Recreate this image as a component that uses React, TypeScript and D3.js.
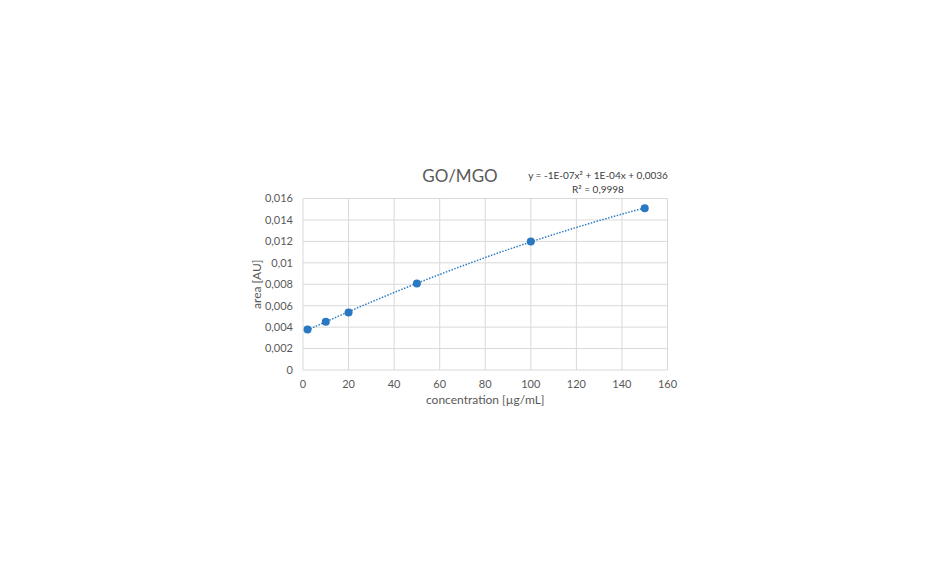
import React, { useEffect, useRef } from 'react';
import * as d3 from 'd3';

// concentration [µg/mL] and measured area [AU]
const concentrations = [2, 10, 20, 50, 100, 150];
const areas = [0.00377, 0.00451, 0.00536, 0.00807, 0.0120, 0.0151];
const xTicks = [0, 20, 40, 60, 80, 100, 120, 140, 160];
const yTicks = [0, 0.002, 0.004, 0.006, 0.008, 0.01, 0.012, 0.014, 0.016];
const title = 'GO/MGO';
const equationLines = ['y = -1E-07x² + 1E-04x + 0,0036', 'R² = 0,9998'];

// least squares quadratic fit for the trendline
const quadFit = (xs: number[], ys: number[]) => {
  const n = xs.length;
  const s = (f: (i: number) => number) => d3.sum(d3.range(n), f);
  const sx = s(i => xs[i]), sx2 = s(i => xs[i] ** 2), sx3 = s(i => xs[i] ** 3), sx4 = s(i => xs[i] ** 4);
  const sy = s(i => ys[i]), sxy = s(i => xs[i] * ys[i]), sx2y = s(i => xs[i] ** 2 * ys[i]);
  const m = [
    [n, sx, sx2, sy],
    [sx, sx2, sx3, sxy],
    [sx2, sx3, sx4, sx2y],
  ];
  for (let c = 0; c < 3; c++) {
    for (let r = c + 1; r < 3; r++) {
      const f = m[r][c] / m[c][c];
      for (let k = c; k < 4; k++) m[r][k] -= f * m[c][k];
    }
  }
  const coef = [0, 0, 0];
  for (let r = 2; r >= 0; r--) {
    let v = m[r][3];
    for (let k = r + 1; k < 3; k++) v -= m[r][k] * coef[k];
    coef[r] = v / m[r][r];
  }
  return (x: number) => coef[0] + coef[1] * x + coef[2] * x * x;
};

const fmt = (d: number) => (d === 0 ? '0' : String(+d.toFixed(3)).replace('.', ','));

const App = () => {
  const svgRef = useRef<SVGSVGElement>(null);

  useEffect(() => {
    const svg = d3.select(svgRef.current);
    svg.selectAll('*').remove();

    const left = 303, right = 667.5, top = 198.5, bottom = 370;
    const font = 'Lato, "Open Sans", sans-serif';
    const grey = '#595959';

    const x = d3.scaleLinear().domain([0, 160]).range([left, right]);
    const y = d3.scaleLinear().domain([0, 0.016]).range([bottom, top]);

    svg.append('defs').append('clipPath').attr('id', 'chartClip')
      .append('rect').attr('x', 0).attr('y', 0).attr('width', 678).attr('height', 576);

    const g = svg.append('g').attr('clip-path', 'url(#chartClip)');

    // grid
    g.append('g').selectAll('line').data(yTicks).enter().append('line')
      .attr('x1', left).attr('x2', right)
      .attr('y1', d => y(d)).attr('y2', d => y(d))
      .attr('stroke', '#d9d9d9').attr('stroke-width', 1);
    g.append('g').selectAll('line').data(xTicks).enter().append('line')
      .attr('y1', top).attr('y2', bottom)
      .attr('x1', d => x(d)).attr('x2', d => x(d))
      .attr('stroke', '#d9d9d9').attr('stroke-width', 1);

    // tick labels
    g.append('g').selectAll('text').data(yTicks).enter().append('text')
      .attr('x', left - 10).attr('y', d => y(d)).attr('dy', '0.35em')
      .attr('text-anchor', 'end').attr('font-family', font).attr('font-size', 11)
      .attr('fill', grey).text(fmt);
    g.append('g').selectAll('text').data(xTicks).enter().append('text')
      .attr('x', d => x(d)).attr('y', bottom + 18)
      .attr('text-anchor', 'middle').attr('font-family', font).attr('font-size', 11)
      .attr('fill', grey).text(d => String(d));

    // axis titles
    g.append('text')
      .attr('transform', `translate(261,${(top + bottom) / 2}) rotate(-90)`)
      .attr('text-anchor', 'middle').attr('font-family', font).attr('font-size', 12)
      .attr('fill', grey).text('area [AU]');
    g.append('text')
      .attr('x', (left + right) / 2).attr('y', 404)
      .attr('text-anchor', 'middle').attr('font-family', font).attr('font-size', 12)
      .attr('fill', grey).text('concentration [µg/mL]');

    // title
    g.append('text')
      .attr('x', 460).attr('y', 182)
      .attr('text-anchor', 'middle').attr('font-family', font).attr('font-size', 17)
      .attr('fill', grey).text(title);

    // equation
    g.append('g').selectAll('text').data(equationLines).enter().append('text')
      .attr('x', 598).attr('y', (d, i) => 179 + i * 14)
      .attr('text-anchor', 'middle').attr('font-family', font).attr('font-size', 10)
      .attr('fill', '#404040').text(d => d);

    // trendline
    const fit = quadFit(concentrations, areas);
    const xs = d3.range(concentrations[0], concentrations[concentrations.length - 1] + 0.01, 1);
    const line = d3.line<number>().x(d => x(d)).y(d => y(fit(d)));
    g.append('path').datum(xs).attr('d', line)
      .attr('fill', 'none').attr('stroke', '#2e7dc4').attr('stroke-width', 1.5)
      .attr('stroke-dasharray', '1.5,1.5');

    // points
    g.append('g').selectAll('circle').data(concentrations).enter().append('circle')
      .attr('cx', d => x(d)).attr('cy', (d, i) => y(areas[i])).attr('r', 4)
      .attr('fill', '#2a78c2');
  }, []);

  return (
    <div style={{ position: 'absolute', left: 0, top: 0, width: 930, height: 576, background: '#fff' }}>
      <svg ref={svgRef} width={930} height={576}></svg>
    </div>
  );
};

export default App;
